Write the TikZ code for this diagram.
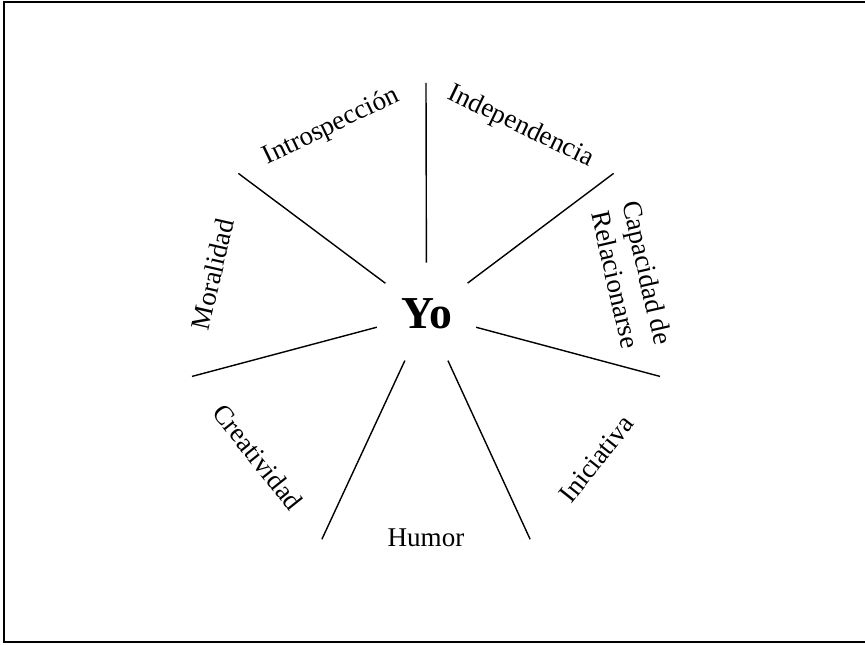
\documentclass[tikz,border=0pt]{standalone}
\usepackage{fontspec}
\setmainfont{Liberation Serif}
\usepackage{tikz}
\usetikzlibrary{positioning, calc}

\begin{document}
\begin{tikzpicture}[
    spoke/.style={line width=0.8pt, black},
    trait/.style={font=\fontsize{15.4}{18.5}\selectfont, inner sep=1pt, align=center},
]
    % Frame
    \useasboundingbox (-8.52, -6.42) rectangle (8.78, 6.46);
    \draw[line width=1.2pt] (8.78, 6.42) -- (-8.44, 6.42) -- (-8.44, -6.38) -- (8.78, -6.38);

    % Centre
    \coordinate (c) at (0, 0);
    \node[circle, minimum size=2.04cm, inner sep=0pt, font=\fontsize{26}{30}\selectfont\bfseries] (yo) at (0.01, 0.18) {Yo};

    % Spoke ends
    \coordinate (p1) at (90:4.8);
    \coordinate (p2) at (38.57:4.8);
    \coordinate (p3) at (-12.86:4.8);
    \coordinate (p4) at (-64.29:4.8);
    \coordinate (p5) at (-115.71:4.8);
    \coordinate (p6) at (-167.14:4.8);
    \coordinate (p7) at (141.43:4.8);

    % Spokes
    \draw[spoke] (yo) -- (p1);
    \draw[spoke] (yo) -- (p2);
    \draw[spoke] (yo) -- (p3);
    \draw[spoke] (yo) -- (p4);
    \draw[spoke] (yo) -- (p5);
    \draw[spoke] (yo) -- (p6);
    \draw[spoke] (yo) -- (p7);

    % Traits
    \node[trait, rotate=-25.71] (indep) at (64.29:4.36) {Independencia};
    \node[trait, rotate=-77.14] (capac) at (12.86:4.22) {Capacidad de\\Relacionarse};
    \node[trait, rotate=51.43] (inici) at (-38.57:4.36) {Iniciativa};
    \node[trait] (humor) at (-90:4.3) {Humor};
    \node[trait, rotate=-51.43] (creat) at (-141.43:4.3) {Creatividad};
    \node[trait, rotate=77.14] (moral) at (167.14:4.38) {Moralidad};
    \node[trait, rotate=25.71] (intro) at (115.71:4.36) {Introspección};
\end{tikzpicture}
\end{document}
